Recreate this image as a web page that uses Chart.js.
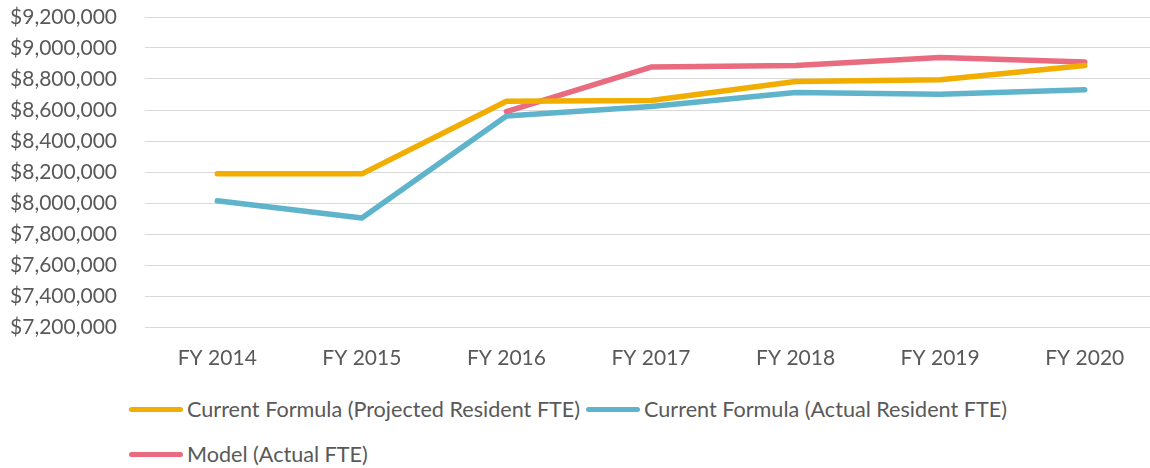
<!DOCTYPE html>
<html>
<head>
<meta charset="utf-8">
<title>Formula vs Model</title>
<script src="https://cdn.jsdelivr.net/npm/chart.js@4.4.1/dist/chart.umd.min.js"></script>
<style>
  html, body { margin: 0; padding: 0; background: #fff; overflow: hidden; }
  body { width: 1150px; height: 468px; position: relative; font-family: Lato, "Open Sans", sans-serif; }
  #wrap { position: absolute; left: 0; top: 0; width: 1157px; height: 372px; }
  #legend {
    position: absolute; left: 129px; top: 397px; width: 900px;
    display: flex; flex-wrap: wrap; row-gap: 20px; column-gap: 6px;
    color: #595959; font-size: 21.6px; line-height: 25px;
  }
  .item { display: flex; align-items: center; white-space: nowrap; }
  .swatch { width: 54px; height: 5px; border-radius: 3px; margin-right: 4px; }
</style>
</head>
<body>
<div id="wrap"><canvas id="chart"></canvas></div>
<div id="legend"></div>

<script>
// ---- data ----
const categories = ["FY 2014", "FY 2015", "FY 2016", "FY 2017", "FY 2018", "FY 2019", "FY 2020"];
const projectedFte = [8188000, 8188000, 8656000, 8661000, 8784000, 8795000, 8887000];
const actualFte    = [8014000, 7903000, 8562000, 8622000, 8713000, 8702000, 8730000];
const modelFte     = [null, null, 8590000, 8877000, 8887000, 8939000, 8909000];

const seriesNames = [
  "Current Formula (Projected Resident FTE)",
  "Current Formula (Actual Resident FTE)",
  "Model (Actual FTE)"
];
const seriesColors = ["#F1AD00", "#5FB4CC", "#E86B7F"];

const textColor = "#595959";
const gridColor = "#D9D9D9";

function money(v) {
  return "$" + Number(v).toLocaleString("en-US");
}

function lineSet(label, data, color) {
  return {
    label,
    data,
    borderColor: color,
    backgroundColor: color,
    borderWidth: 5.5,
    borderCapStyle: "round",
    borderJoinStyle: "round",
    pointRadius: 0,
    pointHoverRadius: 0,
    tension: 0,
    spanGaps: false
  };
}

const chart = new Chart(document.getElementById("chart"), {
  type: "line",
  data: {
    labels: categories,
    datasets: [
      lineSet(seriesNames[0], projectedFte, seriesColors[0]),
      lineSet(seriesNames[1], actualFte, seriesColors[1]),
      lineSet(seriesNames[2], modelFte, seriesColors[2])
    ]
  },
  options: {
    responsive: true,
    maintainAspectRatio: false,
    animation: false,
    layout: { padding: { top: 17, right: 0, bottom: 0, left: 0 } },
    plugins: {
      legend: { display: false },
      tooltip: { enabled: false }
    },
    scales: {
      x: {
        offset: true,
        grid: { display: false, drawTicks: false },
        border: { display: false },
        ticks: {
          color: textColor,
          padding: 19,
          font: { family: "Lato", size: 21 }
        },
        afterFit: (scale) => { scale.height = 45; }
      },
      y: {
        min: 7200000,
        max: 9200000,
        grid: { color: gridColor, lineWidth: 1, drawTicks: false },
        border: { display: false },
        ticks: {
          stepSize: 200000,
          color: textColor,
          padding: 28,
          font: { family: "Lato", size: 21 },
          callback: (v) => money(v)
        },
        afterFit: (scale) => {
          scale.width = 145;
          // top/bottom room is handled by layout padding
          scale.paddingTop = 0;
          scale.paddingBottom = 0;
        }
      }
    }
  }
});

// legend (html, built from the chart datasets)
const legendEl = document.getElementById("legend");
chart.data.datasets.forEach(ds => {
  const item = document.createElement("div");
  item.className = "item";
  item.innerHTML = `<span class="swatch" style="background:${ds.borderColor}"></span><span>${ds.label}</span>`;
  legendEl.appendChild(item);
});
</script>
</body>
</html>
